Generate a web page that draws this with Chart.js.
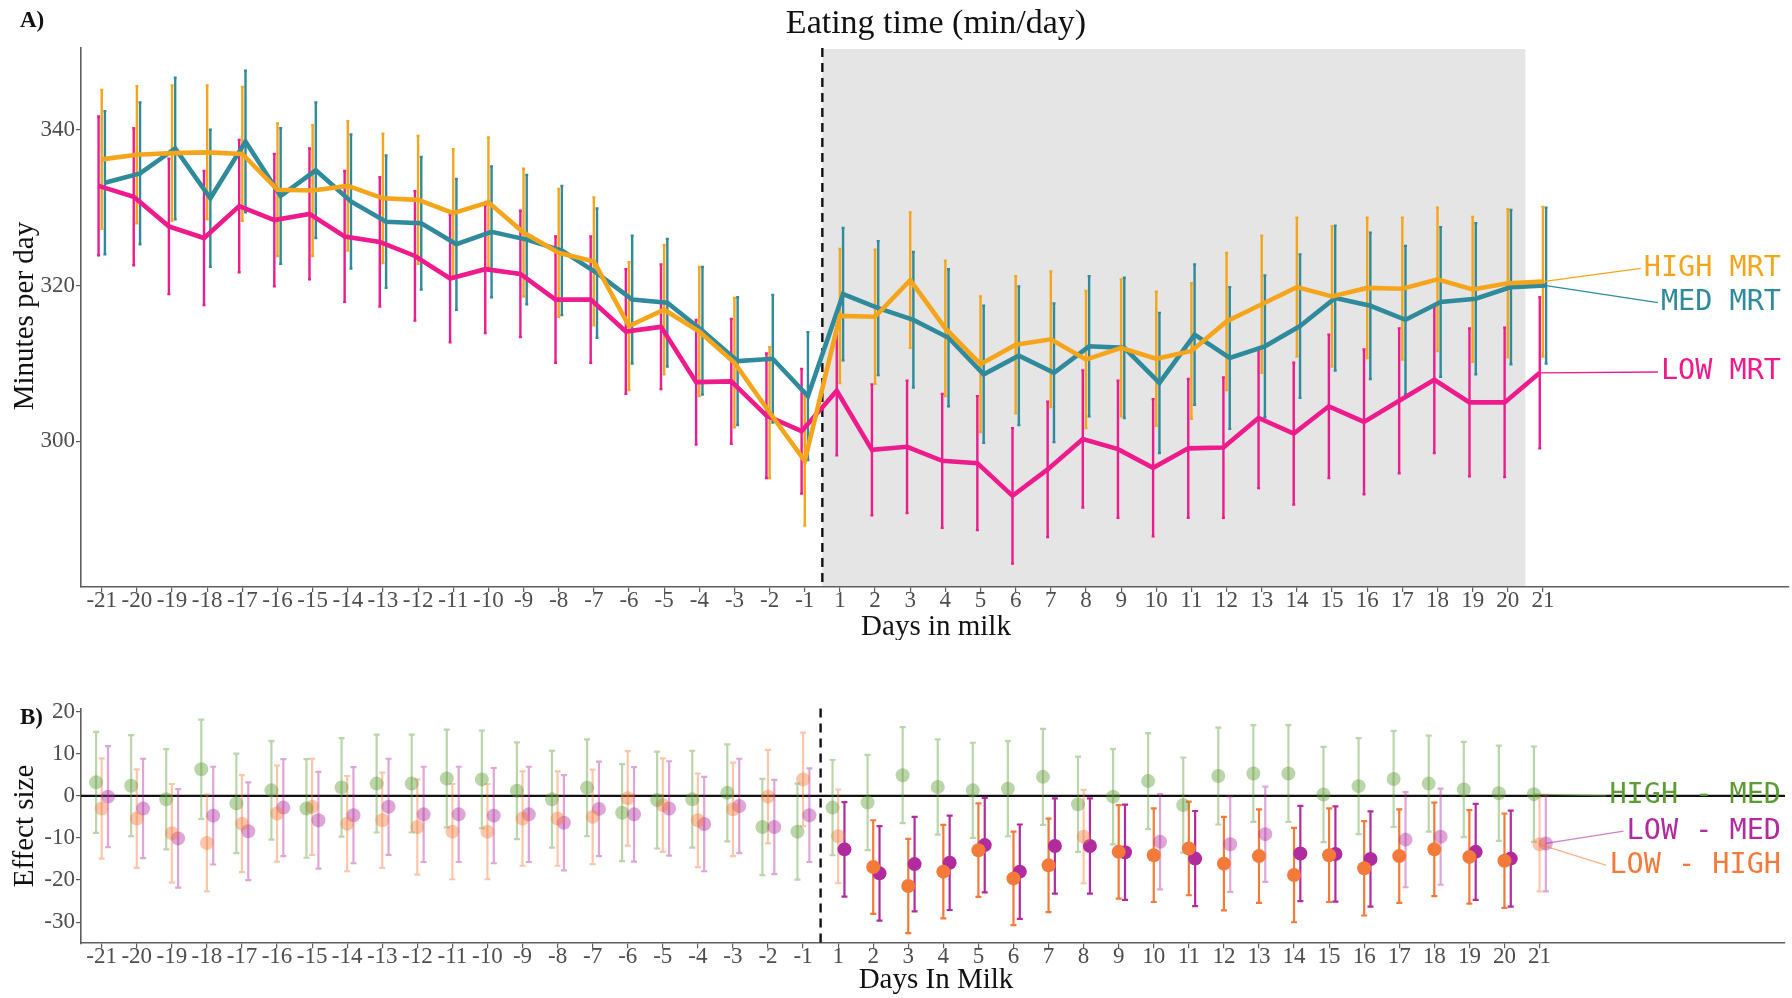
<!DOCTYPE html>
<html>
<head>
<meta charset="utf-8">
<script src="https://cdn.jsdelivr.net/npm/chart.js@4.4.0/dist/chart.umd.min.js"></script>
<style>
  html, body { margin: 0; padding: 0; background: #fff; }
  #wrap { position: relative; width: 1792px; height: 998px; }
  #topChart { position: absolute; left: 0; top: 0; }
  #botChart { position: absolute; left: 0; top: 640px; }
</style>
</head>
<body>
<div id="wrap">
  <canvas id="topChart" width="1792" height="640" style="width:1792px;height:640px"></canvas>
  <canvas id="botChart" width="1792" height="358" style="width:1792px;height:358px"></canvas>
</div>
<script>
// ---- data ----
const days = [-21,-20,-19,-18,-17,-16,-15,-14,-13,-12,-11,-10,-9,-8,-7,-6,-5,-4,-3,-2,-1,
              1,2,3,4,5,6,7,8,9,10,11,12,13,14,15,16,17,18,19,20,21];

// A) eating time, minutes per day
const highMRT = [336.2,336.8,337.0,337.1,336.9,332.3,332.2,332.8,331.2,331.0,329.3,330.7,326.8,324.2,323.1,314.8,316.9,314.1,310.1,303.7,297.5,
                 316.1,316.0,320.7,314.5,309.9,312.4,313.1,310.5,312.0,310.6,311.6,315.4,317.6,319.8,318.6,319.7,319.6,320.8,319.5,320.3,320.5];
const medMRT  = [333.2,334.4,337.6,331.2,338.5,331.5,334.8,330.8,328.2,328.0,325.3,326.9,325.9,324.5,321.6,318.2,317.8,314.2,310.3,310.6,305.8,
                 318.9,317.1,315.6,313.3,308.6,311.0,308.8,312.2,312.0,307.5,313.7,310.7,312.2,314.8,318.4,317.4,315.6,317.9,318.3,319.8,320.0];
const lowMRT  = [332.8,331.4,327.6,326.1,330.2,328.4,329.2,326.3,325.6,323.8,320.9,322.1,321.5,318.2,318.2,314.1,314.7,307.6,307.7,303.3,301.3,
                 306.5,298.9,299.3,297.5,297.2,293.0,296.4,300.3,299.0,296.6,299.1,299.2,303.0,301.0,304.5,302.5,305.2,307.9,305.0,305.0,308.8];
// half widths of the error bars
const highErr = [8.9,8.8,8.7,8.6,8.6,8.5,8.4,8.3,8.3,8.2,8.2,8.3,8.2,8.2,8.2,8.2,8.3,8.3,8.3,8.4,8.3,
                 8.6,8.6,8.7,8.7,8.7,8.8,8.7,8.8,8.8,8.6,8.7,8.8,8.8,8.9,9.0,9.0,9.1,9.2,9.3,9.5,9.6];
const medErr  = [9.2,9.1,9.1,8.8,9.1,8.7,8.7,8.6,8.5,8.5,8.4,8.4,8.3,8.3,8.3,8.2,8.2,8.2,8.2,8.2,8.2,
                 8.5,8.6,8.7,8.8,8.8,8.9,8.9,9.0,9.0,9.0,9.0,9.1,9.1,9.2,9.3,9.4,9.5,9.6,9.7,9.9,10.0];
const lowErr  = [8.9,8.8,8.7,8.6,8.5,8.5,8.4,8.4,8.3,8.3,8.2,8.2,8.1,8.1,8.1,8.0,8.0,8.0,8.0,8.0,8.0,
                 8.3,8.4,8.5,8.6,8.6,8.7,8.7,8.8,8.8,8.8,8.9,9.0,9.0,9.1,9.2,9.3,9.3,9.4,9.5,9.6,9.7];

// B) effect sizes
const highMinusMed = [3.2,2.4,-0.8,6.3,-1.8,1.3,-3.0,2.0,2.9,2.9,4.1,3.9,1.2,-0.8,1.9,-4.0,-1.0,-0.8,0.7,-7.4,-8.5,
                      -2.8,-1.6,4.9,2.1,1.3,1.7,4.5,-2.0,-0.2,3.5,-2.2,4.7,5.3,5.3,0.3,2.3,4.0,2.9,1.5,0.6,0.4];
const lowMinusHigh = [-3.0,-5.4,-8.9,-11.2,-6.6,-4.2,-2.6,-6.6,-5.8,-7.4,-8.5,-8.5,-5.4,-5.4,-5.0,-0.6,-2.2,-5.8,-3.2,-0.2,3.9,
                      -9.6,-16.9,-21.4,-18.0,-12.9,-19.6,-16.5,-9.7,-13.3,-14.1,-12.5,-16.1,-14.3,-18.8,-14.1,-17.2,-14.3,-12.7,-14.5,-15.4,-11.5];
const lowMinusMed  = [-0.2,-3.0,-10.1,-4.7,-8.4,-2.8,-5.8,-4.6,-2.6,-4.4,-4.4,-4.7,-4.4,-6.4,-3.1,-4.4,-3.0,-6.7,-2.4,-7.4,-4.6,
                      -12.7,-18.4,-16.2,-15.9,-11.7,-18.0,-11.9,-11.9,-13.4,-10.9,-14.9,-11.5,-9.1,-13.7,-13.8,-15.0,-10.4,-9.7,-13.3,-14.9,-11.3];
const hmErr = [12.0,12.0,11.9,11.8,11.8,11.7,11.7,11.7,11.6,11.6,11.6,11.6,11.5,11.5,11.5,11.5,11.5,11.5,11.5,11.4,11.4,
               11.3,11.3,11.4,11.3,11.3,11.3,11.4,11.3,11.3,11.4,11.3,11.5,11.5,11.5,11.3,11.4,11.4,11.4,11.3,11.3,11.3];
const lhErr = [11.9,11.7,11.7,11.5,11.5,11.4,11.4,11.3,11.3,11.3,11.3,11.3,11.2,11.2,11.2,11.2,11.1,11.1,11.1,11.1,11.1,
               11.1,11.1,11.2,11.1,11.1,11.1,11.1,11.1,11.1,11.1,11.1,11.1,11.1,11.2,11.1,11.2,11.1,11.1,11.1,11.2,11.2];
const lmErr = [12.0,11.8,11.7,11.6,11.6,11.5,11.5,11.4,11.4,11.3,11.3,11.3,11.3,11.3,11.2,11.2,11.2,11.2,11.2,11.2,11.1,
               11.2,11.2,11.2,11.2,11.2,11.2,11.3,11.3,11.3,11.3,11.3,11.3,11.3,11.3,11.3,11.3,11.3,11.4,11.4,11.4,11.4];
// days where the contrast is significant (drawn solid)
const sigLowHigh = [2,3,4,5,6,7,9,10,11,12,13,14,15,16,17,18,19,20];
const sigLowMed  = [1,2,3,4,5,6,7,8,9,11,14,15,16,19,20];
const sigHighMed = [];

const yTicksTop = [300, 320, 340];
const yTicksBot = [-30, -20, -10, 0, 10, 20];
const calvingSplit = 20.5;   // between -1 and 1 (index units)
const periodEnd = 40.5;      // between 20 and 21

// ---- styling ----
Chart.defaults.font.family = '"Liberation Serif", "DejaVu Serif", serif';
Chart.defaults.color = '#4d4d4d';
Chart.defaults.animation = false;
const AXIS = '#5e5e5e';
const MONO = '"DejaVu Sans Mono", "Liberation Mono", monospace';

const topSeries = [
  { name: 'HIGH MRT', values: highMRT, err: highErr, color: '#f5a51c', dodge: 0,     labelY: 322.2 },
  { name: 'MED MRT',  values: medMRT,  err: medErr,  color: '#2f8a9b', dodge: 0.09,  labelY: 317.8 },
  { name: 'LOW MRT',  values: lowMRT,  err: lowErr,  color: '#ee1b8c', dodge: -0.09, labelY: 308.9 }
];
const botSeries = [
  { name: 'HIGH - MED', values: highMinusMed, err: hmErr, sig: sigHighMed, rgb: '94,155,53',  dodge: -0.16, labelY: 0 },
  { name: 'LOW - HIGH', values: lowMinusHigh, err: lhErr, sig: sigLowHigh, rgb: '244,122,58', dodge: 0,     labelY: -16.5 },
  { name: 'LOW - MED',  values: lowMinusMed,  err: lmErr, sig: sigLowMed,  rgb: '176,44,158', dodge: 0.18,  labelY: -8.4 }
];
function ptAlpha(s, i) { return s.sig.includes(days[i]) ? 1 : 0.42; }

function xAxis(height) {
  return {
    type: 'linear', min: -0.59, max: 48.0,
    afterBuildTicks: s => { s.ticks = days.map((d, i) => ({ value: i })); },
    afterFit: s => { s.height = height; },
    ticks: { autoSkip: false, maxRotation: 0, minRotation: 0, padding: -5,
             font: { size: 23 }, color: '#4d4d4d',
             callback: (v, i) => String(days[i]) },
    grid: { display: true, drawOnChartArea: false, drawTicks: true, tickLength: 5, color: AXIS, lineWidth: 1.2 },
    border: { display: true, color: AXIS, width: 1.6 }
  };
}
function yAxis(min, max, tickVals) {
  return {
    type: 'linear', min, max,
    afterBuildTicks: s => { s.ticks = tickVals.map(v => ({ value: v })); },
    afterFit: s => { s.width = 81; },
    ticks: { padding: 1, font: { size: 23 }, color: '#4d4d4d' },
    grid: { display: true, drawOnChartArea: false, drawTicks: true, tickLength: 5, color: AXIS, lineWidth: 1.2 },
    border: { display: true, color: AXIS, width: 1.6 }
  };
}

function errBar(ctx, x, y1, y2, cap, color, width) {
  ctx.strokeStyle = color;
  ctx.lineWidth = width;
  ctx.beginPath();
  ctx.moveTo(x, y1); ctx.lineTo(x, y2);
  ctx.moveTo(x - cap, y1); ctx.lineTo(x + cap, y1);
  ctx.moveTo(x - cap, y2); ctx.lineTo(x + cap, y2);
  ctx.stroke();
}
function dashedSplit(chart) {
  const { ctx, chartArea, scales } = chart;
  const x = scales.x.getPixelForValue(calvingSplit);
  ctx.save();
  ctx.strokeStyle = '#111';
  ctx.lineWidth = 2.4;
  ctx.setLineDash([9, 6]);
  ctx.beginPath();
  ctx.moveTo(x, chartArea.top); ctx.lineTo(x, chartArea.bottom);
  ctx.stroke();
  ctx.restore();
}
function drawTexts(ctx, items) {
  items.forEach(t => {
    ctx.save();
    ctx.font = t.font;
    ctx.fillStyle = t.color || '#111';
    ctx.textAlign = t.align || 'center';
    ctx.textBaseline = 'middle';
    ctx.translate(t.x, t.y);
    if (t.rotate) ctx.rotate(t.rotate);
    ctx.fillText(t.text, 0, 0);
    ctx.restore();
  });
}
function sideLabels(chart, series, getColor, textRight) {
  const { ctx, scales } = chart;
  ctx.save();
  ctx.font = '28.5px ' + MONO;
  series.forEach(s => {
    const last = s.values.length - 1;
    const px = scales.x.getPixelForValue(last + s.dodge);
    const py = scales.y.getPixelForValue(s.values[last]);
    const ly = scales.y.getPixelForValue(s.labelY);
    const w = ctx.measureText(s.name).width;
    const left = textRight - w;
    ctx.strokeStyle = getColor(s, true);
    ctx.lineWidth = 1.3;
    ctx.beginPath();
    ctx.moveTo(px, py); ctx.lineTo(left - 3, ly);
    ctx.stroke();
    ctx.fillStyle = getColor(s, false);
    ctx.textAlign = 'left';
    ctx.textBaseline = 'middle';
    ctx.fillText(s.name, left, ly);
  });
  ctx.restore();
}

// ---- A) top chart ----
const topPlugin = {
  id: 'topDecor',
  beforeDraw(chart) {
    const { ctx, chartArea, scales } = chart;
    const x1 = scales.x.getPixelForValue(calvingSplit);
    const x2 = scales.x.getPixelForValue(periodEnd);
    ctx.save();
    ctx.fillStyle = '#e5e5e5';
    ctx.fillRect(x1, chartArea.top + 1, x2 - x1, chartArea.bottom - chartArea.top - 1);
    ctx.restore();
  },
  beforeDatasetsDraw(chart) {
    const { ctx, scales } = chart;
    dashedSplit(chart);
    ctx.save();
    [topSeries[2], topSeries[1], topSeries[0]].forEach(s => {
      s.values.forEach((v, i) => {
        const x = scales.x.getPixelForValue(i + s.dodge);
        errBar(ctx, x, scales.y.getPixelForValue(v + s.err[i]), scales.y.getPixelForValue(v - s.err[i]), 1.5, s.color, 2.4);
      });
    });
    ctx.restore();
  },
  afterDraw(chart) {
    sideLabels(chart, topSeries, s => s.color, 1781);
    drawTexts(chart.ctx, [
      { text: 'A)', x: 20, y: 21, font: 'bold 23px "Liberation Serif", serif', align: 'left' },
      { text: 'Eating time (min/day)', x: 936, y: 24, font: '34px "Liberation Serif", serif' },
      { text: 'Minutes per day', x: 25, y: 316, font: '29px "Liberation Serif", serif', rotate: -Math.PI / 2 },
      { text: 'Days in milk', x: 936, y: 627, font: '29px "Liberation Serif", serif' }
    ]);
  }
};

new Chart(document.getElementById('topChart'), {
  type: 'line',
  data: {
    datasets: topSeries.map(s => ({
      label: s.name,
      data: s.values.map((v, i) => ({ x: i + s.dodge, y: v })),
      borderColor: s.color,
      borderWidth: 4.6,
      pointRadius: 0,
      tension: 0,
      fill: false
    }))
  },
  options: {
    responsive: false,
    devicePixelRatio: 1,
    layout: { padding: { top: 48, right: 3, left: 0, bottom: 0 } },
    plugins: { legend: { display: false }, tooltip: { enabled: false } },
    scales: { x: xAxis(53), y: yAxis(281.3, 350.5, yTicksTop) }
  },
  plugins: [topPlugin]
});

// ---- B) bottom chart ----
const botPlugin = {
  id: 'botDecor',
  beforeDatasetsDraw(chart) {
    const { ctx, chartArea, scales } = chart;
    dashedSplit(chart);
    ctx.save();
    const y0 = scales.y.getPixelForValue(0);
    ctx.strokeStyle = '#111';
    ctx.lineWidth = 2.2;
    ctx.beginPath();
    ctx.moveTo(chartArea.left, y0); ctx.lineTo(chartArea.right, y0);
    ctx.stroke();
    botSeries.forEach(s => {
      s.values.forEach((v, i) => {
        const x = scales.x.getPixelForValue(i + s.dodge);
        const col = 'rgba(' + s.rgb + ',' + ptAlpha(s, i) + ')';
        errBar(ctx, x, scales.y.getPixelForValue(v + s.err[i]), scales.y.getPixelForValue(v - s.err[i]), 3, col, 2.2);
      });
    });
    ctx.restore();
  },
  afterDraw(chart) {
    sideLabels(chart, botSeries, (s, line) => 'rgba(' + s.rgb + ',' + (line ? 0.6 : 1) + ')', 1781);
    drawTexts(chart.ctx, [
      { text: 'B)', x: 20, y: 78, font: 'bold 23px "Liberation Serif", serif', align: 'left' },
      { text: 'Effect size', x: 25, y: 186, font: '29px "Liberation Serif", serif', rotate: -Math.PI / 2 },
      { text: 'Days In Milk', x: 936, y: 340, font: '29px "Liberation Serif", serif' }
    ]);
  }
};

new Chart(document.getElementById('botChart'), {
  type: 'scatter',
  data: {
    datasets: botSeries.map(s => ({
      label: s.name,
      data: s.values.map((v, i) => ({ x: i + s.dodge, y: v })),
      pointRadius: 7,
      pointBorderWidth: 0,
      pointBackgroundColor: s.values.map((v, i) => 'rgba(' + s.rgb + ',' + ptAlpha(s, i) + ')'),
      showLine: false
    }))
  },
  options: {
    responsive: false,
    devicePixelRatio: 1,
    layout: { padding: { top: 68.6, right: 3, left: 0, bottom: 0 } },
    plugins: { legend: { display: false }, tooltip: { enabled: false } },
    scales: { x: xAxis(54.7), y: yAxis(-35, 20.7, yTicksBot) }
  },
  plugins: [botPlugin]
});
</script>
</body>
</html>
